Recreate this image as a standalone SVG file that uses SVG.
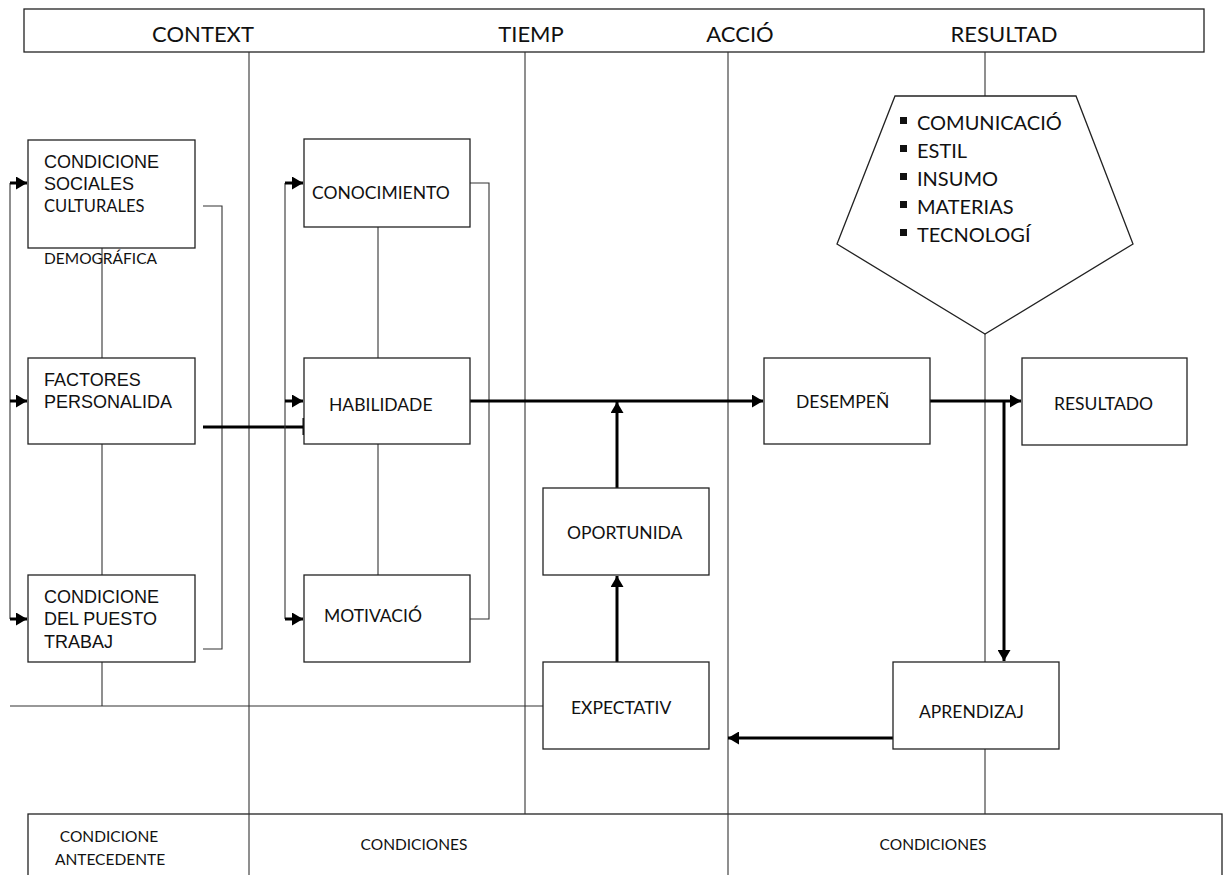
<svg xmlns="http://www.w3.org/2000/svg" width="1228" height="875" viewBox="0 0 1228 875">
<style>
.box{fill:#fff;stroke:#222;stroke-width:1.3}
.thin{fill:none;stroke:#333;stroke-width:1.1}
.thick{fill:none;stroke:#000;stroke-width:3}
.stub{fill:none;stroke:#000;stroke-width:3}
.ar{font-family:"Liberation Sans",Arial,sans-serif;font-size:18px;fill:#111}
.cb{font-family:Lato,"Open Sans",sans-serif;font-size:17.5px;fill:#111}
.hd{font-family:Lato,"Open Sans",sans-serif;font-size:22px;fill:#111}
.pt{font-family:Lato,"Open Sans",sans-serif;font-size:20px;fill:#111}
.sm{font-family:Lato,"Open Sans",sans-serif;font-size:15.5px;fill:#111}
</style>
<defs>
<marker id="ah" viewBox="0 0 10 10" refX="10" refY="5" markerWidth="11" markerHeight="13" markerUnits="userSpaceOnUse" orient="auto" preserveAspectRatio="none">
<path d="M0,0 L10,5 L0,10 z" fill="#000"/>
</marker>
</defs>
<rect width="1228" height="875" fill="#fff"/>

<g id="header">
<rect class="box" x="24" y="9" width="1180" height="43"/>
<text class="hd" x="203" y="42" text-anchor="middle">CONTEXT</text>
<text class="hd" x="531" y="42" text-anchor="middle">TIEMP</text>
<text class="hd" x="740" y="42" text-anchor="middle">ACCIÓ</text>
<text class="hd" x="1004" y="42" text-anchor="middle">RESULTAD</text>
</g>

<g id="footer">
<rect class="box" x="28" y="814" width="1194" height="75"/>
<text class="sm" x="109" y="842" text-anchor="middle">CONDICIONE</text>
<text class="sm" x="110" y="865" text-anchor="middle">ANTECEDENTE</text>
<text class="sm" x="414" y="850" text-anchor="middle">CONDICIONES</text>
<text class="sm" x="933" y="850" text-anchor="middle">CONDICIONES</text>
</g>

<g id="connectors">
<line class="thin" x1="249" y1="52" x2="249" y2="875"/>
<line class="thin" x1="525" y1="52" x2="525" y2="814"/>
<line class="thin" x1="728" y1="52" x2="728" y2="875"/>
<line class="thin" x1="985" y1="52" x2="985" y2="96"/>
<line class="thin" x1="985" y1="334" x2="985" y2="662"/>
<line class="thin" x1="985" y1="749" x2="985" y2="814"/>
<line class="thin" x1="10" y1="183" x2="10" y2="619"/>
<line class="stub" x1="10" y1="183" x2="27" y2="183" marker-end="url(#ah)"/>
<line class="stub" x1="10" y1="401" x2="27" y2="401" marker-end="url(#ah)"/>
<line class="stub" x1="10" y1="619" x2="27" y2="619" marker-end="url(#ah)"/>
<line class="thin" x1="102" y1="248" x2="102" y2="358"/>
<line class="thin" x1="102" y1="444" x2="102" y2="575"/>
<line class="thin" x1="102" y1="662" x2="102" y2="706"/>
<line class="thin" x1="10" y1="706" x2="543" y2="706"/>
<polyline class="thin" points="203,206 222,206 222,649 203,649"/>
<line class="thick" x1="203" y1="427" x2="304" y2="427"/>
<line class="thick" x1="304" y1="418" x2="304" y2="435"/>
<line class="thin" x1="285" y1="183" x2="285" y2="619"/>
<line class="stub" x1="285" y1="183" x2="303" y2="183" marker-end="url(#ah)"/>
<line class="stub" x1="285" y1="401" x2="303" y2="401" marker-end="url(#ah)"/>
<line class="stub" x1="285" y1="619" x2="303" y2="619" marker-end="url(#ah)"/>
<line class="thin" x1="378" y1="227" x2="378" y2="358"/>
<line class="thin" x1="378" y1="444" x2="378" y2="575"/>
<polyline class="thin" points="470,183 489,183 489,619 470,619"/>
<line class="thick" x1="470" y1="401" x2="763" y2="401" marker-end="url(#ah)"/>
<line class="thick" x1="617" y1="488" x2="617" y2="402" marker-end="url(#ah)"/>
<line class="thick" x1="617" y1="662" x2="617" y2="576" marker-end="url(#ah)"/>
<line class="thick" x1="930" y1="401" x2="1021" y2="401" marker-end="url(#ah)"/>
<line class="thick" x1="1004" y1="401" x2="1004" y2="661" marker-end="url(#ah)"/>
<line class="thick" x1="893" y1="738" x2="728" y2="738" marker-end="url(#ah)"/>
</g>

<g id="pentagon">
<polygon class="box" points="895,96 1076,96 1133,244 985,334 837,244"/>
<g fill="#111">
<rect x="900" y="117" width="7" height="7"/>
<rect x="900" y="145" width="7" height="7"/>
<rect x="900" y="173" width="7" height="7"/>
<rect x="900" y="201" width="7" height="7"/>
<rect x="900" y="229" width="7" height="7"/>
</g>
<text class="pt" x="917" y="130">COMUNICACIÓ</text>
<text class="pt" x="917" y="158">ESTIL</text>
<text class="pt" x="917" y="186">INSUMO</text>
<text class="pt" x="917" y="214">MATERIAS</text>
<text class="pt" x="917" y="242">TECNOLOGÍ</text>
</g>

<g id="condiciones-sociales">
<rect class="box" x="28" y="140" width="167" height="108"/>
<text class="ar" x="44" y="168">CONDICIONE</text>
<text class="ar" x="44" y="190">SOCIALES</text>
<text class="cb" x="44" y="212" style="font-size:16.5px">CULTURALES</text>
<text class="sm" x="44" y="264">DEMOGRÁFICA</text>
</g>

<g id="factores">
<rect class="box" x="28" y="358" width="167" height="86"/>
<text class="ar" x="44" y="386">FACTORES</text>
<text class="ar" x="44" y="408">PERSONALIDA</text>
</g>

<g id="condiciones-puesto">
<rect class="box" x="28" y="575" width="167" height="87"/>
<text class="ar" x="44" y="603">CONDICIONE</text>
<text class="ar" x="44" y="625">DEL PUESTO</text>
<text class="ar" x="44" y="648">TRABAJ</text>
</g>

<g id="conocimiento">
<rect class="box" x="304" y="139" width="166" height="88"/>
<text class="cb" x="312" y="199">CONOCIMIENTO</text>
</g>

<g id="habilidade">
<rect class="box" x="304" y="358" width="166" height="86"/>
<text class="cb" x="329" y="411">HABILIDADE</text>
</g>

<g id="motivacio">
<rect class="box" x="304" y="575" width="166" height="87"/>
<text class="cb" x="324" y="622">MOTIVACIÓ</text>
</g>

<g id="oportunida">
<rect class="box" x="543" y="488" width="166" height="87"/>
<text class="cb" x="567" y="539">OPORTUNIDA</text>
</g>

<g id="expectativ">
<rect class="box" x="543" y="662" width="166" height="87"/>
<text class="cb" x="571" y="714">EXPECTATIV</text>
</g>

<g id="desempen">
<rect class="box" x="764" y="358" width="166" height="86"/>
<text class="cb" x="796" y="408">DESEMPEÑ</text>
</g>

<g id="resultado">
<rect class="box" x="1022" y="358" width="165" height="87"/>
<text class="cb" x="1054" y="410">RESULTADO</text>
</g>

<g id="aprendizaj">
<rect class="box" x="893" y="662" width="166" height="87"/>
<text class="cb" x="919" y="718">APRENDIZAJ</text>
</g>
</svg>
